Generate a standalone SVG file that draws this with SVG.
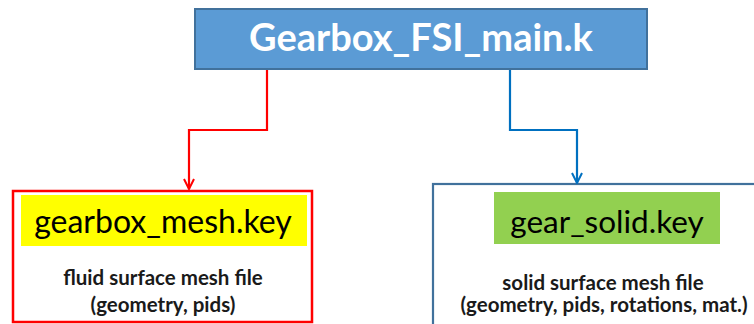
<svg xmlns="http://www.w3.org/2000/svg" width="754" height="324" viewBox="0 0 754 324">
  <style>
    .title { font-family: "Lato", "Liberation Sans", sans-serif; font-weight: bold; fill: #ffffff; }
    .file { font-family: "Lato", "Liberation Sans", sans-serif; fill: #000000; }
    .desc { font-family: "Lato", "Liberation Sans", sans-serif; font-weight: bold; font-size: 20.5px; fill: #1a1a1a; }
    .wire { fill: none; stroke-width: 2.2; stroke-linejoin: miter; }
  </style>
  <defs>
    <marker id="arrowRed" viewBox="0 0 12 12" refX="11" refY="6" markerWidth="12" markerHeight="12" markerUnits="userSpaceOnUse" orient="auto">
      <path d="M1,1 L11,6 L1,11" fill="none" stroke="#ff0000" stroke-width="2"/>
    </marker>
    <marker id="arrowBlue" viewBox="0 0 12 12" refX="11" refY="6" markerWidth="12" markerHeight="12" markerUnits="userSpaceOnUse" orient="auto">
      <path d="M1,1 L11,6 L1,11" fill="none" stroke="#0070c0" stroke-width="2"/>
    </marker>
  </defs>
  <rect width="754" height="324" fill="#ffffff"/>

  <g id="main">
    <rect x="195" y="9" width="452" height="60" fill="#5b9bd5" stroke="#41719c" stroke-width="2"/>
    <text class="title" x="421" y="51" font-size="38" text-anchor="middle">Gearbox_FSI_main.k</text>
  </g>

  <g id="gearbox_mesh">
    <rect x="13" y="191" width="299" height="131" fill="#ffffff" stroke="#ff0000" stroke-width="2.5"/>
    <rect x="21" y="195" width="286" height="51" fill="#ffff00"/>
    <text class="file" x="163" y="233" font-size="32" text-anchor="middle">gearbox_mesh.key</text>
    <text class="desc" x="163" y="285" text-anchor="middle">fluid surface mesh file</text>
    <text class="desc" x="163" y="312" text-anchor="middle">(geometry, pids)</text>
  </g>

  <g id="gear_solid">
    <rect x="433" y="184" width="350" height="160" fill="#ffffff" stroke="#41719c" stroke-width="2.2"/>
    <rect x="494" y="192" width="226" height="52" fill="#92d050"/>
    <text class="file" x="607" y="233" font-size="31.5" text-anchor="middle">gear_solid.key</text>
    <text class="desc" x="603" y="290" text-anchor="middle">solid surface mesh file</text>
    <text class="desc" x="604" y="312" text-anchor="middle">(geometry, pids, rotations, mat.)</text>
  </g>

  <g id="connectors">
    <path class="wire" d="M267,70 V130 H189 V189" stroke="#ff0000" marker-end="url(#arrowRed)"/>
    <path class="wire" d="M510,70 V130 H577 V183" stroke="#0070c0" marker-end="url(#arrowBlue)"/>
  </g>
</svg>
